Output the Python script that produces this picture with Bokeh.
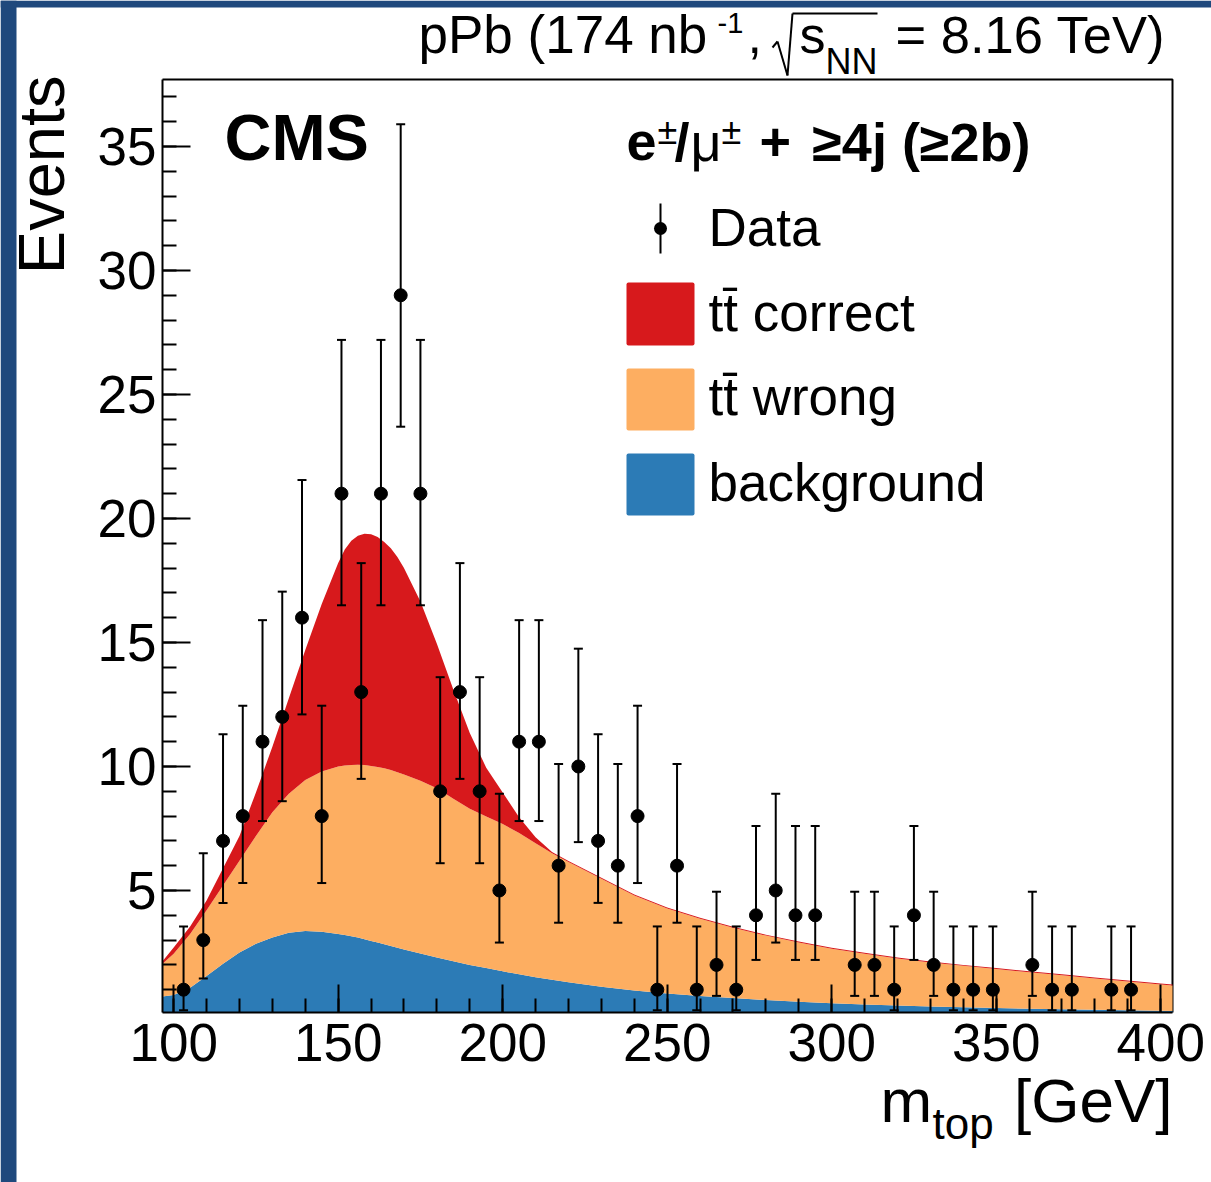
import numpy as np
from bokeh.plotting import figure
from bokeh.models import (ColumnDataSource, FixedTicker, Whisker, TeeHead, Label,
                          Range1d, BoxAnnotation, Arrow)
from bokeh.embed import file_html
from bokeh.resources import INLINE

# ---------------- data ----------------
bin_centers = [103, 109, 115, 121, 127, 133, 139, 145, 151, 157,
               163, 169, 175, 181, 187, 193, 199, 205, 211, 217,
               223, 229, 235, 241, 247, 253, 259, 265, 271, 277,
               283, 289, 295, 307, 313, 319, 325, 331, 337, 343,
               349, 361, 367, 373, 385, 391]
counts = [1, 3, 7, 8, 11, 12, 16, 8, 21, 13,
          21, 29, 21, 9, 13, 9, 5, 11, 11, 6,
          10, 7, 6, 8, 1, 6, 1, 2, 1, 4,
          5, 4, 4, 2, 2, 1, 4, 2, 1, 1,
          1, 2, 1, 1, 1, 1]
err_low = [0.17, 1.45, 4.5, 5.3, 7.8, 8.6, 12.1, 5.3, 16.5, 9.5,
           16.5, 23.7, 16.5, 6.1, 9.5, 6.1, 2.9, 7.8, 7.8, 3.7,
           6.95, 4.5, 3.7, 5.3, 0.17, 3.7, 0.17, 0.75, 0.17, 2.2,
           2.9, 2.2, 2.2, 0.75, 0.75, 0.17, 2.2, 0.75, 0.17, 0.17,
           0.17, 0.75, 0.17, 0.17, 0.17, 0.17]
err_high = [3.55, 6.5, 11.3, 12.45, 15.9, 17.05, 21.55, 12.45, 27.2, 18.2,
            27.2, 35.9, 27.2, 13.6, 18.2, 13.6, 8.9, 15.9, 15.9, 10.1,
            14.75, 11.3, 10.1, 12.45, 3.55, 10.1, 3.55, 4.95, 3.55, 7.6,
            8.9, 7.6, 7.6, 4.95, 4.95, 3.55, 7.6, 4.95, 3.55, 3.55,
            3.55, 4.95, 3.55, 3.55, 3.55, 3.55]

curve_x = [96.6, 100, 105, 110, 115, 120, 125, 130, 135, 140,
           145, 150, 152, 154, 156, 158, 160, 162, 164, 166,
           168, 170, 175, 180, 185, 190, 195, 200, 205, 210,
           215, 220, 230, 240, 250, 260, 270, 280, 290, 300,
           310, 320, 330, 340, 350, 360, 370, 380, 390, 400,
           403.6]
background_top = [0.73, 0.79, 1.08, 1.55, 2.05, 2.5, 2.85, 3.1, 3.3, 3.37,
                  3.34, 3.25, 3.2, 3.15, 3.1, 3.03, 2.96, 2.9, 2.83, 2.76,
                  2.69, 2.62, 2.46, 2.3, 2.15, 2.0, 1.87, 1.74, 1.62, 1.5,
                  1.4, 1.3, 1.12, 0.97, 0.85, 0.75, 0.66, 0.58, 0.51, 0.45,
                  0.4, 0.36, 0.32, 0.29, 0.26, 0.23, 0.21, 0.19, 0.17, 0.15,
                  0.14]
tt_wrong_top = [2.05, 2.45, 3.25, 4.2, 5.2, 6.2, 7.2, 8.15, 8.9, 9.45,
                9.8, 10.0, 10.04, 10.06, 10.07, 10.06, 10.02, 9.98, 9.93, 9.86,
                9.77, 9.68, 9.42, 9.12, 8.7, 8.3, 7.98, 7.68, 7.32, 6.9,
                6.5, 6.15, 5.47, 4.8, 4.27, 3.86, 3.5, 3.18, 2.9, 2.65,
                2.45, 2.26, 2.1, 1.96, 1.83, 1.7, 1.58, 1.45, 1.33, 1.21,
                1.17]
tt_correct_top = [2.15, 2.7, 3.55, 4.6, 5.9, 7.2, 8.95, 10.8, 12.75, 14.7,
                  16.55, 18.2, 18.75, 19.1, 19.3, 19.38, 19.36, 19.25, 19.05, 18.8,
                  18.45, 18.0, 16.65, 14.95, 13.1, 11.35, 9.95, 8.95, 7.95, 7.15,
                  6.55, 6.19, 5.51, 4.84, 4.31, 3.9, 3.54, 3.22, 2.94, 2.69,
                  2.49, 2.3, 2.14, 2.0, 1.87, 1.74, 1.62, 1.49, 1.37, 1.25,
                  1.21]

x_ticks = [100, 150, 200, 250, 300, 350, 400]
x_minor = list(range(100, 401, 10))
y_ticks = [5, 10, 15, 20, 25, 30, 35]
y_minor = list(range(1, 38))

legend_labels = ["Data", "tt\u0304 correct", "tt\u0304 wrong", "background"]
col_correct = "#d7191c"
col_wrong = "#fdae61"
col_bkg = "#2c7bb6"
col_edge = "#1f497d"

# ---------------- layout constants (page pixels) ----------------
FIG_W, FIG_H = 1211, 1182
BL, BR, BT, BB = 162, 1172, 79, 1012        # plot box on the page
X0, X1 = 96.6, 403.6                          # box data limits
Y0, Y1 = 0.08, 37.7
FONT = "Liberation Sans"


def dx(px):
    return X0 + (px - BL) * (X1 - X0) / (BR - BL)


def dy(py):
    return Y0 + (BB - py) * (Y1 - Y0) / (BB - BT)


# the frame covers the whole canvas; the axes sit at the box edges through
# fixed_location, so every text around the box is drawn inside the frame
p = figure(width=FIG_W, height=FIG_H,
           x_range=Range1d(dx(0), dx(FIG_W)), y_range=Range1d(dy(FIG_H), dy(0)),
           output_backend="svg", toolbar_location=None,
           min_border_left=0, min_border_right=0,
           min_border_top=0, min_border_bottom=0)
p.title.visible = False
p.grid.visible = False
p.background_fill_color = "white"
p.border_fill_color = "white"
p.outline_line_color = None

p.xaxis.ticker = FixedTicker(ticks=x_ticks, minor_ticks=x_minor)
p.yaxis.ticker = FixedTicker(ticks=y_ticks, minor_ticks=y_minor)
p.xaxis.bounds = (X0, X1)
p.yaxis.bounds = (Y0, Y1)
p.xaxis.fixed_location = Y0
p.yaxis.fixed_location = X0
for ax in (p.xaxis[0], p.yaxis[0]):
    ax.axis_line_color = "black"
    ax.axis_line_width = 2
    ax.major_tick_in = 28
    ax.major_tick_out = 0
    ax.minor_tick_in = 14
    ax.minor_tick_out = 0
    ax.major_tick_line_color = "black"
    ax.minor_tick_line_color = "black"
    ax.major_tick_line_width = 2
    ax.minor_tick_line_width = 2
    ax.major_label_text_font = FONT
    ax.major_label_text_font_size = "53px"
    ax.major_label_text_color = "black"
p.xaxis.major_label_standoff = 11
p.yaxis.major_label_standoff = 6

# box top and right edges
p.line(x=[X0, X1, X1], y=[Y1, Y1, Y0], line_color="black", line_width=2)

# ---------------- stacked areas ----------------
curves = ColumnDataSource(dict(x=curve_x, bkg=background_top,
                               wrong=tt_wrong_top, total=tt_correct_top))
p.varea(x="x", y1=Y0, y2="bkg", source=curves, fill_color=col_bkg)
p.varea(x="x", y1="bkg", y2="wrong", source=curves, fill_color=col_wrong)
p.varea(x="x", y1="wrong", y2="total", source=curves, fill_color=col_correct)

# ---------------- data points ----------------
pts = ColumnDataSource(dict(x=bin_centers, y=counts, lo=err_low, hi=err_high))
whisk = Whisker(source=pts, base="x", lower="lo", upper="hi",
                line_color="black", line_width=2, level="annotation",
                upper_head=TeeHead(size=9, line_width=2, line_color="black"),
                lower_head=TeeHead(size=9, line_width=2, line_color="black"))
p.add_layout(whisk)
p.scatter(x="x", y="y", source=pts, size=13, color="black")


# ---------------- texts ----------------
BASE_SHIFT = 0.38   # baseline correction observed for Label text


def add_text(text, px, py, size, bold=False, align="left", rotated=False):
    if rotated:   # reads bottom-to-top, baseline on the right
        x, y, ang = px - BASE_SHIFT * size, py, np.pi / 2
    else:
        x, y, ang = px, py - BASE_SHIFT * size, 0.0
    p.add_layout(Label(x=dx(x), y=dy(y), text=text, angle=ang,
                       text_font=FONT, text_font_size=f"{size}px",
                       text_font_style="bold" if bold else "normal",
                       text_align=align, text_baseline="alphabetic",
                       text_color="black"))


def add_stroke(x_a, y_a, x_b, y_b):
    p.add_layout(Arrow(x_start=dx(x_a), y_start=dy(y_a), x_end=dx(x_b), y_end=dy(y_b),
                       end=None, line_width=2, line_color="black"))


# top-right title
add_text("pPb (174 nb", 418, 54, 53)
add_text("-1", 717, 34, 29)
add_text(",", 747, 54, 52)
add_text("s", 799, 54, 52)
add_text("NN", 825, 75, 36)
add_text("= 8.16 TeV)", 895, 54, 52.5)
# square-root sign
add_stroke(772, 47, 777, 41)
add_stroke(777, 41, 787, 75)
add_stroke(787, 75, 792, 13)
add_stroke(792, 13, 877, 13)

# axis titles
add_text("Events", 66, 75, 65, align="right", rotated=True)
add_text("m", 880, 1124, 62)
add_text("top", 932, 1140, 44)
add_text("[GeV]", 1172, 1124, 62, align="right")

# CMS
add_text("CMS", 224, 162, 65, bold=True)

# legend header
add_text("e", 626, 162, 54, bold=True)
add_text("\u00b1", 657, 145, 36)
add_text("/", 674, 162, 54, bold=True)
add_text("\u03bc", 690, 162, 54)
add_text("\u00b1", 721, 145, 36)
add_text("+", 759, 162, 54, bold=True)
add_text("\u22654j (\u22652b)", 1030, 162, 54, bold=True, align="right")

# legend entries
label_base = [247, 332, 416.5, 502]
for lab, yb in zip(legend_labels, label_base):
    add_text(lab, 708, yb, 53)

# data key: vertical bar + dot
p.add_layout(BoxAnnotation(left=dx(659), right=dx(661), top=dy(203), bottom=dy(253),
                           fill_color="black", fill_alpha=1, line_color=None,
                           level="annotation"))
p.add_layout(BoxAnnotation(left=dx(653.5), right=dx(666.5), top=dy(221.5), bottom=dy(234.5),
                           fill_color="black", fill_alpha=1, line_color=None,
                           border_radius=7, level="annotation"))
# colour keys
for col, (top, bot) in zip([col_correct, col_wrong, col_bkg],
                           [(282, 345), (368, 430), (453, 515)]):
    p.add_layout(BoxAnnotation(left=dx(626), right=dx(694), top=dy(top), bottom=dy(bot),
                               fill_color=col, fill_alpha=1, line_color=None,
                               border_radius=2, level="annotation"))

# slide frame strips along the top and left edges
p.add_layout(BoxAnnotation(left=dx(0), right=dx(FIG_W), top=dy(0), bottom=dy(7),
                           fill_color=col_edge, fill_alpha=1, line_color=None,
                           level="annotation"))
p.add_layout(BoxAnnotation(left=dx(0), right=dx(16), top=dy(0), bottom=dy(FIG_H),
                           fill_color=col_edge, fill_alpha=1, line_color=None,
                           level="annotation"))

open("out.html", "w").write(file_html(p, INLINE))
